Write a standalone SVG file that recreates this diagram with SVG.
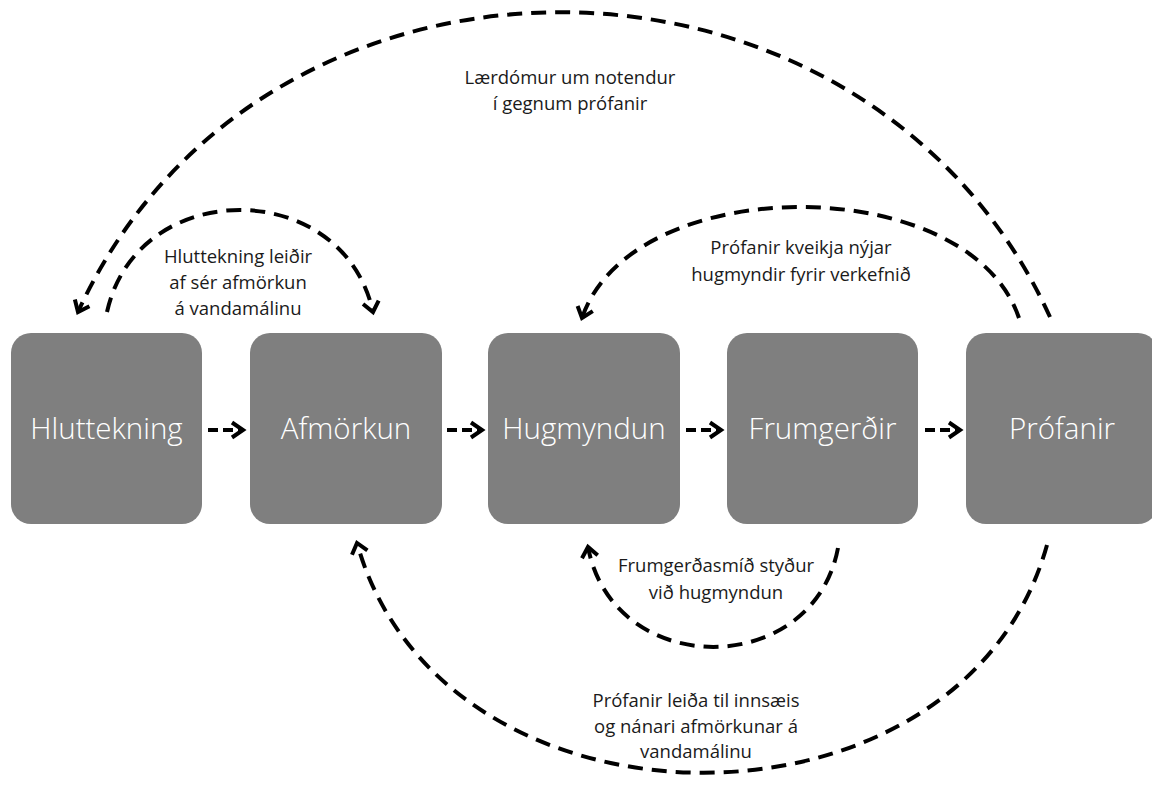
<svg xmlns="http://www.w3.org/2000/svg" width="1152" height="785" viewBox="0 0 1152 785">
<style>
.box{fill:#7f7f7f}
.bt{font-family:"Open Sans","Noto Sans",sans-serif;font-size:29.5px;font-weight:300;fill:#ffffff;text-anchor:middle}
.lb{font-family:"Open Sans","Noto Sans",sans-serif;font-size:18.5px;fill:#1a1a1a;text-anchor:middle}
.cv{fill:none;stroke:#000;stroke-width:4;stroke-dasharray:15 9}
.st{fill:none;stroke:#000;stroke-width:4;stroke-dasharray:10 5}
</style>
<defs>
<marker id="ah" markerUnits="userSpaceOnUse" markerWidth="20" markerHeight="20" refX="0" refY="0" viewBox="-14 -10 18 20" orient="auto" overflow="visible">
<path d="M-10,-8 L0,0 L-10,8" fill="none" stroke="#000" stroke-width="4" stroke-dasharray="none" stroke-linejoin="miter"/>
</marker>
<marker id="ahs" markerUnits="userSpaceOnUse" markerWidth="20" markerHeight="20" refX="0" refY="0" viewBox="-14 -10 18 20" orient="auto" overflow="visible">
<path d="M-11,-7.5 L0,0 L-11,7.5" fill="none" stroke="#000" stroke-width="4" stroke-dasharray="none" stroke-linejoin="miter"/>
</marker>
</defs>
<rect width="1152" height="785" fill="#ffffff"/>
<g id="n-hluttekning"><rect class="box" x="11" y="333" width="191" height="191" rx="20"/><text class="bt" x="106.5" y="439">Hluttekning</text></g>
<g id="n-afmorkun"><rect class="box" x="250" y="333" width="192" height="191" rx="20"/><text class="bt" x="346" y="439">Afmörkun</text></g>
<g id="n-hugmyndun"><rect class="box" x="488" y="333" width="192" height="191" rx="20"/><text class="bt" x="584" y="439">Hugmyndun</text></g>
<g id="n-frumgerdir"><rect class="box" x="727" y="333" width="191" height="191" rx="20"/><text class="bt" x="822.5" y="439">Frumgerðir</text></g>
<g id="n-profanir"><rect class="box" x="966" y="333" width="192" height="191" rx="20"/><text class="bt" x="1062" y="439">Prófanir</text></g>
<g id="connectors">
<line class="st" x1="208" y1="430" x2="243" y2="430" marker-end="url(#ahs)"/>
<line class="st" x1="447" y1="430" x2="482" y2="430" marker-end="url(#ahs)"/>
<line class="st" x1="686" y1="430" x2="721" y2="430" marker-end="url(#ahs)"/>
<line class="st" x1="925" y1="430" x2="960" y2="430" marker-end="url(#ahs)"/>
<path class="cv" d="M1050,317 C866,-86 262,-91 78,312" marker-end="url(#ah)"/>
<path class="cv" d="M107,312 C137,176 343,176 373,312" marker-end="url(#ah)"/>
<path class="cv" d="M1019,318 C969,170 632,170 582,318" marker-end="url(#ah)"/>
<path class="cv" d="M838,548 C813,680 613,680 588,547" marker-end="url(#ah)"/>
<path class="cv" d="M1047,545 C962,850 442,848 357,543" marker-end="url(#ah)"/>
</g>
<g id="labels">
<text class="lb" x="570" y="84">Lærdómur um notendur</text>
<text class="lb" x="570" y="110">í gegnum prófanir</text>
<text class="lb" x="238" y="263">Hluttekning leiðir</text>
<text class="lb" x="238" y="289">af sér afmörkun</text>
<text class="lb" x="238" y="315">á vandamálinu</text>
<text class="lb" x="801" y="254">Prófanir kveikja nýjar</text>
<text class="lb" x="801" y="281">hugmyndir fyrir verkefnið</text>
<text class="lb" x="716" y="572">Frumgerðasmíð styður</text>
<text class="lb" x="716" y="599">við hugmyndun</text>
<text class="lb" x="696" y="707">Prófanir leiða til innsæis</text>
<text class="lb" x="696" y="733">og nánari afmörkunar á</text>
<text class="lb" x="696" y="758">vandamálinu</text>
</g>
</svg>
